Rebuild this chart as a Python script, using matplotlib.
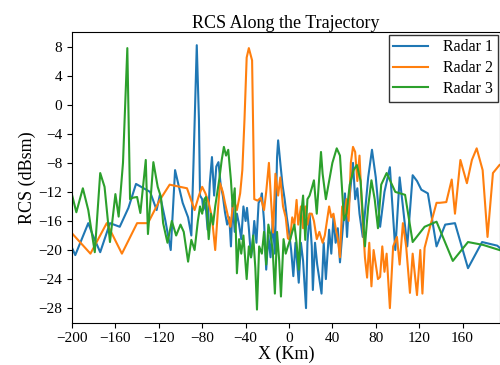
import matplotlib
matplotlib.use("Agg")
import matplotlib.pyplot as plt

plt.rcParams['font.family'] = ['Liberation Serif', 'DejaVu Serif']

# Radar 1 (blue)
x1 = [-200, -197, -185, -181, -174, -165, -156, -148, -141, -128, -122, -119, -114, -109, -105,
      -98, -93, -90, -88, -85, -83, -82, -80, -79, -77, -75, -73, -71, -69, -67, -65, -63,
      -61, -59, -57, -55, -53.5, -52, -50, -48, -46, -44, -42, -40, -38.7, -37, -35, -34,
      -32, -30, -28, -26, -25, -23, -21, -19, -17, -15, -13, -11, -10, -8, -6, -4, -2, 0,
      2, 4, 6, 9, 11, 13, 15.7, 17, 19, 21, 22, 24, 26, 28, 30, 32, 34, 37, 39, 41, 43, 45,
      47, 49, 50.5, 51.6, 53.5, 55, 57, 59, 61, 63, 65, 68, 73, 76.5, 80, 84, 88, 93, 98,
      102, 105, 109, 114, 118, 122, 128, 136, 144, 153, 165, 178, 192, 195]
y1 = [-19.7, -20.7, -16.3, -17.9, -20.3, -16.3, -16.8, -14.2, -10.9, -12.0, -14.5, -12.4, -15.9,
      -20.0, -9.0, -13.5, -15.5, -18.0, -8.0, 8.2, -2.0, -12.5, -13.0, -14.5, -13.5, -17.2,
      -10.8, -7.2, -12.5, -8.5, -7.9, -11.0, -12.5, -14.8, -16.5, -15.5, -19.5, -13.5,
      -17.5, -15.0, -16.5, -18.5, -14.0, -16.0, -14.2, -17.0, -21.0, -20.0, -16.0, -19.0,
      -13.5, -13.0, -12.2, -16.0, -22.7, -18.0, -21.0, -16.0, -20.5, -7.2, -4.9, -8.0,
      -11.0, -13.0, -15.5, -17.5, -20.0, -23.6, -19.0, -24.5, -19.0, -21.5, -28.0, -19.0,
      -15.0, -19.5, -25.5, -19.0, -22.0, -24.0, -26.0, -19.0, -24.0, -17.2, -20.5, -15.5,
      -19.0, -17.0, -21.7, -18.0, -15.5, -12.2, -18.2, -14.0, -11.0, -8.0, -13.0, -11.5,
      -15.0, -18.2, -10.0, -6.2, -10.0, -16.8, -12.0, -8.6, -20.0, -10.0, -14.0, -19.5,
      -9.7, -10.5, -11.7, -12.2, -19.5, -16.5, -16.3, -22.5, -18.9, -19.4, -19.8]

# Radar 2 (orange)
x2 = [-200, -183, -168, -154, -140, -130, -119, -110, -94, -87, -83, -80, -77, -74, -71, -68,
      -65.5, -63.6, -61, -59, -56, -54, -51, -48, -45, -43, -41, -39, -37, -34, -32, -29,
      -26, -23, -21, -18.5, -16.6, -14.7, -12.5, -10, -8, -5.5, -3, -1, 1, 3, 5, 7, 8.5, 11,
      13, 15, 17, 19, 21, 23, 25.6, 28, 31, 33, 35, 37, 39, 41, 43, 45, 47, 49, 51, 53, 55,
      57, 59, 61, 63, 65, 67, 70, 72, 74, 76, 78, 80, 82, 84, 86, 88, 90, 93, 96, 99.5, 102,
      105, 108, 111.5, 114, 118, 121, 123, 125, 130, 136, 139, 145, 150, 153, 158, 164,
      168.6, 173, 178.5, 183, 188, 194]
y2 = [-17.7, -20.5, -16.3, -20.5, -16.3, -16.3, -13.1, -11.0, -11.5, -14.5, -12.5, -11.3, -12.2,
      -13.5, -15.5, -20.0, -14.5, -10.8, -12.0, -13.5, -15.5, -16.8, -13.0, -14.5, -12.2,
      -9.0, -2.0, 6.5, 7.8, 6.1, -13.0, -13.2, -12.8, -14.5, -12.0, -8.0, -13.0, -17.6,
      -9.5, -12.5, -10.0, -14.0, -15.5, -18.4, -18.6, -15.5, -16.5, -13.1, -16.5, -14.0,
      -17.0, -14.0, -16.5, -15.0, -15.0, -16.0, -18.5, -17.5, -19.0, -18.0, -16.0, -14.0,
      -15.5, -15.0, -17.0, -18.5, -21.0, -14.0, -15.5, -13.0, -16.0, -8.0, -5.8, -6.5,
      -10.5, -7.0, -13.5, -21.0, -23.8, -19.0, -25.0, -20.0, -22.0, -24.0, -23.7, -19.5,
      -23.0, -20.5, -28.0, -19.5, -18.2, -22.0, -16.3, -19.5, -25.9, -20.5, -26.2, -20.0,
      -26.0, -19.7, -16.8, -13.5, -13.5, -13.4, -10.3, -15.0, -7.6, -10.8, -7.6, -6.0,
      -9.0, -18.2, -9.4, -8.3]

# Radar 3 (green)
x3 = [-200, -196, -190, -185, -179, -174, -170, -165, -160, -157, -153, -149, -146.5, -144, -140,
      -137, -132, -130, -125, -121, -118, -116, -112, -108, -104, -100, -97, -93, -90, -87,
      -84, -82, -80, -78, -76.5, -74, -72, -70, -68, -67, -64, -62, -60, -58, -56, -53.5,
      -52, -50, -48, -46, -44, -42, -39, -37, -35, -33, -31, -29.5, -27.5, -25, -23, -21,
      -19, -17, -15, -13, -11, -9, -7.4, -5, -3, -1, 1, 3, 5, 7, 9, 11, 13, 15, 17, 19, 21,
      23, 25.6, 29.5, 31, 34, 37, 40, 44, 47, 50.7, 53, 56, 59.5, 62.6, 66, 68, 70, 73, 76,
      79, 82, 85, 90, 98, 107, 114, 125, 136, 151, 165, 179, 194]
y3 = [-12.4, -14.8, -11.5, -14.5, -20.3, -9.4, -11.3, -18.9, -12.3, -15.4, -8.0, 7.8, -13.0,
      -12.8, -12.7, -14.9, -7.6, -17.8, -7.9, -11.3, -12.7, -16.3, -19.0, -16.0, -18.0,
      -16.5, -17.5, -21.6, -18.6, -20.0, -16.0, -14.0, -15.0, -13.0, -12.7, -18.5, -15.0,
      -16.5, -14.0, -13.0, -10.0, -7.6, -5.8, -7.0, -6.2, -10.4, -14.0, -11.5, -23.2,
      -18.5, -20.5, -18.0, -24.0, -19.5, -21.0, -18.0, -22.5, -28.2, -19.5, -20.5, -17.5,
      -22.0, -16.5, -18.0, -20.0, -26.0, -17.5, -21.5, -26.4, -18.5, -20.5, -19.5, -18.6,
      -17.5, -16.5, -19.0, -22.7, -15.5, -12.5, -18.6, -13.0, -12.5, -11.5, -10.4, -15.0,
      -6.5, -9.5, -13.0, -10.5, -8.0, -6.0, -7.0, -15.9, -15.0, -11.0, -9.0, -8.3, -10.5,
      -15.0, -19.5, -14.0, -10.4, -13.0, -17.0, -11.0, -9.4, -12.0, -12.4, -18.9, -16.8,
      -16.1, -21.5, -18.9, -19.3, -20.0]

fig = plt.figure(figsize=(5.0, 3.65), dpi=100)
ax = fig.add_axes([0.144, 0.116, 0.856, 0.796])

ax.plot(x1, y1, color='#1f77b4', lw=1.5, label='Radar 1')
ax.plot(x2, y2, color='#ff7f0e', lw=1.5, label='Radar 2')
ax.plot(x3, y3, color='#2ca02c', lw=1.5, label='Radar 3')

ax.set_xlim(-200, 194.5)
ax.set_ylim(-30, 10)
ax.set_xticks(range(-200, 161, 40))
ax.set_yticks(range(-28, 9, 4))
ax.tick_params(labelsize=11)
ax.set_xlabel('X (Km)', fontsize=13, labelpad=0)
ax.set_ylabel('RCS (dBsm)', fontsize=13, labelpad=2)
ax.set_title('RCS Along the Trajectory', fontsize=13, pad=3)

leg = ax.legend(loc='upper right', fontsize=11.5, fancybox=False, edgecolor='black',
                borderaxespad=0.15, handlelength=2.2, labelspacing=0.3,
                borderpad=0.3, handletextpad=0.9)
leg.get_frame().set_linewidth(1.0)

fig.savefig('out.png', dpi=100)
